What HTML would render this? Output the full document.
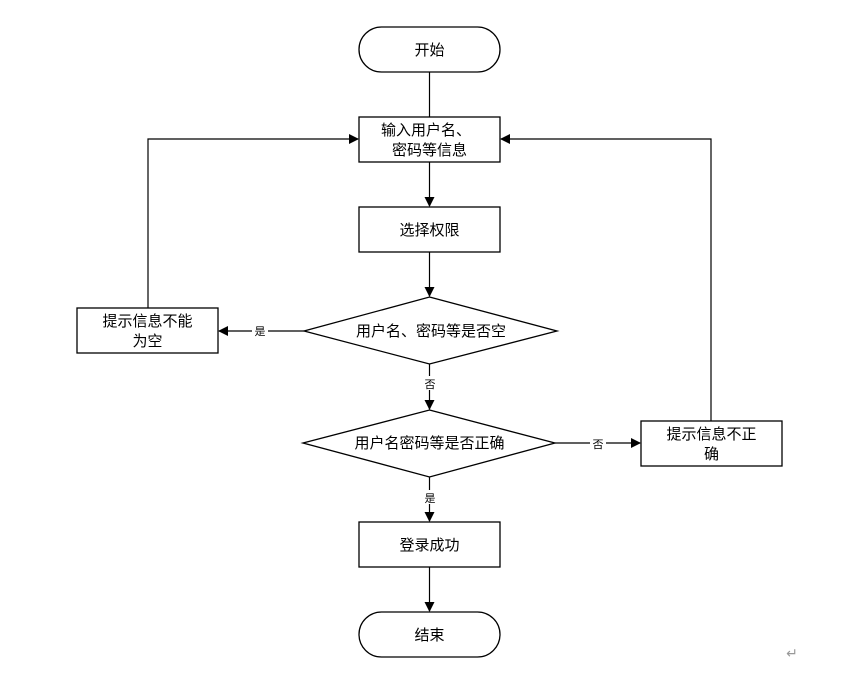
<!DOCTYPE html>
<html><head><meta charset="utf-8"><style>
html,body{margin:0;padding:0;background:#fff;}
svg text{font-family:"Liberation Sans","Noto Sans CJK SC","WenQuanYi Zen Hei",sans-serif;fill:#000;}
</style></head><body>
<svg width="857" height="668" viewBox="0 0 857 668" xmlns="http://www.w3.org/2000/svg">
<defs><marker id="a" markerWidth="10" markerHeight="10" refX="9" refY="5" orient="auto" markerUnits="userSpaceOnUse"><path d="M0,0 L10,5 L0,10 z" fill="#000"/></marker></defs>
<g stroke="#000" stroke-width="1.3" fill="#fff">
<rect x="359" y="27" width="141" height="45" rx="22.5"/>
<rect x="359" y="117" width="141" height="45"/>
<rect x="359" y="207" width="141" height="45"/>
<polygon points="429.5,297 557,331 429.5,364 304,331"/>
<rect x="77" y="308" width="141" height="45"/>
<polygon points="429.5,410 555,443 429.5,477 303,443"/>
<rect x="641" y="421" width="141" height="45"/>
<rect x="359" y="522" width="141" height="45"/>
<rect x="359" y="612" width="141" height="45" rx="22.5"/>
</g>
<g stroke="#000" stroke-width="1.2" fill="none">
<line x1="429.5" y1="72" x2="429.5" y2="117"/>
<line x1="429.5" y1="162" x2="429.5" y2="206" marker-end="url(#a)"/>
<line x1="429.5" y1="252" x2="429.5" y2="296" marker-end="url(#a)"/>
<line x1="429.5" y1="364" x2="429.5" y2="409" marker-end="url(#a)"/>
<line x1="429.5" y1="477" x2="429.5" y2="521" marker-end="url(#a)"/>
<line x1="429.5" y1="567" x2="429.5" y2="611" marker-end="url(#a)"/>
<line x1="304" y1="331" x2="219" y2="331" marker-end="url(#a)"/>
<polyline points="148,308 148,139 358,139" marker-end="url(#a)"/>
<line x1="555" y1="443" x2="640" y2="443" marker-end="url(#a)"/>
<polyline points="711,421 711,139 501,139" marker-end="url(#a)"/>
</g>
<g font-size="11" text-anchor="middle">
<rect x="252" y="323" width="16" height="14" fill="#fff"/><text x="260" y="335">是</text>
<rect x="422" y="376" width="16" height="14" fill="#fff"/><text x="430" y="388">否</text>
<rect x="590" y="436" width="16" height="14" fill="#fff"/><text x="598" y="448">否</text>
<rect x="422" y="490" width="16" height="14" fill="#fff"/><text x="430" y="502">是</text>
</g>
<g font-size="15" text-anchor="middle">
<text x="429.5" y="55">开始</text>
<text x="426" y="135">输入用户名、</text>
<text x="429.5" y="155">密码等信息</text>
<text x="429.5" y="235">选择权限</text>
<text x="431" y="336">用户名、密码等是否空</text>
<text x="147.5" y="326">提示信息不能</text>
<text x="147.5" y="346">为空</text>
<text x="429.5" y="448">用户名密码等是否正确</text>
<text x="711.5" y="439">提示信息不正</text>
<text x="711.5" y="459">确</text>
<text x="429.5" y="550">登录成功</text>
<text x="429.5" y="640">结束</text>
</g>
<text x="792" y="658" font-size="14" fill="#999" style="fill:#999" text-anchor="middle">↵</text>
</svg>
</body></html>
